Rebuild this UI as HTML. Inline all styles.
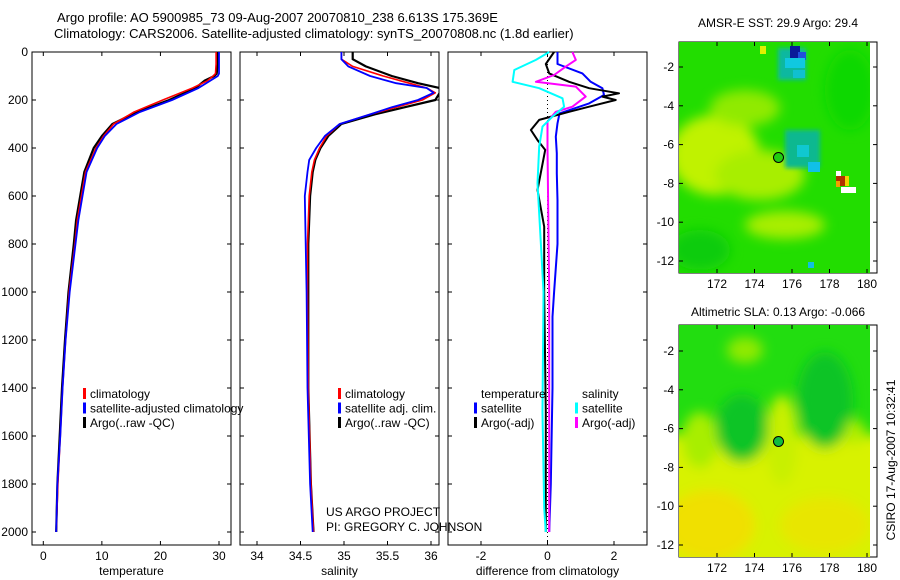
<!DOCTYPE html>
<html><head><meta charset="utf-8"><style>
html,body{margin:0;padding:0;background:#fff;}
svg{display:block;font-family:"Liberation Sans",Arial,sans-serif;}
</style></head><body>
<svg id="c" width="900" height="580" viewBox="0 0 900 580">
<defs>
<filter id="bl" x="-50%" y="-50%" width="200%" height="200%"><feGaussianBlur stdDeviation="6"/></filter>
<filter id="bl2" x="-50%" y="-50%" width="200%" height="200%"><feGaussianBlur stdDeviation="2"/></filter>
<clipPath id="m1c"><rect x="679" y="42" width="191" height="231"/></clipPath>
<clipPath id="m2c"><rect x="679" y="325" width="191" height="232"/></clipPath>
</defs>
<g>
<text x="57" y="22" font-size="13">Argo profile: AO 5900985_73 09-Aug-2007 20070810_238 6.613S 175.369E</text>
<text x="54" y="38" font-size="13">Climatology: CARS2006. Satellite-adjusted climatology: synTS_20070808.nc (1.8d earlier)</text>
</g>

<g>
<rect x="679" y="42" width="198" height="231" fill="#fff" stroke="#000" stroke-width="1"/>
<g clip-path="url(#m1c)">
<rect x="679" y="42" width="191" height="231" fill="#22dd00"/>
<g filter="url(#bl)">
<ellipse cx="715" cy="155" rx="45" ry="40" fill="#c0f200"/>
<ellipse cx="760" cy="175" rx="45" ry="25" fill="#a8ee00"/>
<ellipse cx="785" cy="225" rx="40" ry="14" fill="#a8ee00"/>
<ellipse cx="745" cy="108" rx="35" ry="18" fill="#90ea00"/>
<ellipse cx="850" cy="90" rx="25" ry="40" fill="#10d800"/>
<ellipse cx="700" cy="250" rx="30" ry="20" fill="#10cc10"/>
</g>
<g filter="url(#bl2)">
<rect x="778" y="48" width="28" height="32" fill="#10b8a0"/>
<rect x="785" y="130" width="35" height="38" fill="#10b890"/>
</g>
<rect x="790" y="46" width="10" height="12" fill="#0a1a99"/>
<rect x="798" y="52" width="8" height="8" fill="#2050dd"/>
<rect x="785" y="58" width="20" height="10" fill="#10c8e0"/>
<rect x="793" y="70" width="12" height="8" fill="#10c0d0"/>
<rect x="797" y="145" width="12" height="12" fill="#10c8d0"/>
<rect x="808" y="162" width="12" height="10" fill="#10c0e8"/>
<rect x="760" y="46" width="6" height="8" fill="#e0f000"/>
<rect x="836" y="171" width="5" height="5" fill="#fff"/>
<rect x="836" y="176" width="10" height="10" fill="#b03000"/>
<rect x="836" y="181" width="4" height="6" fill="#f0a000"/>
<rect x="845" y="176" width="4" height="10" fill="#f0d000"/>
<rect x="841" y="187" width="15" height="6" fill="#fff"/>
<rect x="808" y="262" width="6" height="6" fill="#10c0e0"/>
</g>
<circle cx="778.5" cy="157.5" r="5" fill="#22cc10" stroke="#000" stroke-width="1"/>
<text x="778" y="27" font-size="12" text-anchor="middle">AMSR-E SST: 29.9 Argo: 29.4</text>
</g>

<g>
<rect x="679" y="325" width="198" height="232" fill="#fff" stroke="#000" stroke-width="1"/>
<g clip-path="url(#m2c)">
<rect x="679" y="325" width="191" height="232" fill="#22dd10"/>
<g filter="url(#bl)">
<rect x="660" y="435" width="230" height="140" fill="#d8f200"/>
<ellipse cx="710" cy="525" rx="45" ry="35" fill="#f0e000"/>
<ellipse cx="825" cy="525" rx="45" ry="28" fill="#e8e600"/>
<ellipse cx="782" cy="440" rx="16" ry="45" fill="#c8f000"/>
<ellipse cx="700" cy="440" rx="18" ry="28" fill="#a8ee00"/>
<ellipse cx="742" cy="428" rx="26" ry="34" fill="#10c428"/>
<ellipse cx="825" cy="400" rx="28" ry="48" fill="#10c428"/>
<ellipse cx="745" cy="350" rx="18" ry="13" fill="#90ea00"/>
<ellipse cx="855" cy="432" rx="10" ry="12" fill="#b0ee00"/>
</g>
</g>
<circle cx="778.5" cy="441.5" r="5" fill="#10bb40" stroke="#000" stroke-width="1"/>
<text x="778" y="316" font-size="12" text-anchor="middle">Altimetric SLA: 0.13 Argo: -0.066</text>
</g>
<text transform="translate(895,460) rotate(-90)" font-size="12" text-anchor="middle">CSIRO 17-Aug-2007 10:32:41</text>

<text x="326" y="516" font-size="12">US ARGO PROJECT</text>
<text x="326" y="531" font-size="12">PI: GREGORY C. JOHNSON</text>
</svg>
<script>
var depthTick=[0,200,400,600,800,1000,1200,1400,1600,1800,2000];
var tempTicks=[0,10,20,30];
var salTicks=[34,34.5,35,35.5,36];
var salTickLabels=["34","34.5","35","35.5","36"];
var diffTicks=[-2,0,2];
var tDepth=[0,50,90,100,120,150,200,250,300,350,400,500,600,700,800,1000,1200,1400,1600,1800,2000];
var tClim=[29.5,29.5,29.4,29,28,25.5,20.4,15.5,12,10.3,9,7.2,6.5,5.8,5.4,4.4,3.8,3.3,2.9,2.5,2.2];
var tSat=[30,30,30,29.8,28.5,26.5,22,16.5,12.5,10.5,9.2,7.4,6.7,6,5.5,4.5,3.8,3.3,2.9,2.4,2.2];
var tArgo=[29.8,29.8,29.6,29.2,27.5,26,21.5,16,11.8,10,8.6,7,6.3,5.6,5.2,4.3,3.7,3.2,2.8,2.4,2.2];
var sDepth=[0,30,60,100,130,150,170,200,230,260,300,350,400,450,500,600,800,1000,1400,1800,2000];
var sClim=[34.97,34.97,35.1,35.45,35.75,35.95,36.05,35.9,35.6,35.3,34.95,34.8,34.72,34.66,34.63,34.6,34.58,34.58,34.59,34.62,34.65];
var sSat=[34.97,34.97,35.05,35.3,35.6,35.95,36.03,35.85,35.55,35.3,34.95,34.78,34.68,34.6,34.58,34.55,34.56,34.57,34.58,34.61,34.64];
var sArgo=[35.1,35.1,35.25,35.55,35.85,36.1,36.1,36.05,35.7,35.35,34.97,34.82,34.73,34.67,34.64,34.61,34.59,34.59,34.59,34.62,34.65];
var dtSatDepth=[0,50,89,124,151,179,214,256,297,353,422,506,617,800,1000,1103,1400,1800,2000];
var dtSat=[0.3,0.3,1.05,1.3,1.65,1.7,1.25,0.36,0.3,0.25,0.28,0.28,0.3,0.3,0.2,0.15,0.15,0.1,0.05];
var dtArgoDepth=[0,50,89,124,151,172,186,200,228,249,283,325,367,408,575,728,1000,1500,2000];
var dtArgo=[0.2,-0.05,0.05,0.65,1.25,2.15,1.65,2.05,1.25,0.65,-0.25,-0.5,-0.3,-0.07,-0.3,-0.1,-0.1,-0.05,-0.05];
var dsSatDepth=[0,33,75,124,151,193,228,269,311,394,547,800,1000,1500,1900,2000];
var dsSat=[0.05,-0.35,-1.0,-1.05,-0.25,0.45,0.5,0.15,-0.15,-0.25,-0.3,-0.2,-0.12,-0.15,-0.1,-0.05];
var dsArgoDepth=[0,33,61,96,124,144,186,228,249,290,400,1000,2000];
var dsArgo=[0.75,0.85,0.55,0.2,-0.35,0.85,1.15,0.75,0.25,0,0,0.05,0.05];
var lonTicks=[172,174,176,178,180];
var latTicks=[-2,-4,-6,-8,-10,-12];

var svg=document.getElementById('c');
var NS='http://www.w3.org/2000/svg';
function mk(tag,attrs,parent){var e=document.createElementNS(NS,tag);for(var k in attrs)e.setAttribute(k,attrs[k]);(parent||svg).appendChild(e);return e;}
var Y0=52,YB=545;
function yD(d){return Y0+d*0.24;}
function linX(v0,p0,v1,p1){return function(v){return p0+(v-v0)*(p1-p0)/(v1-v0);};}

function panel(name,x0,x1,xf,ticks,labels,xtitle,leftLabels){
  var g=mk('g',{});
  
  
  mk('rect',{x:x0,y:Y0,width:x1-x0,height:YB-Y0,fill:'none',stroke:'#000','stroke-width':1},g);
  ticks.forEach(function(t,i){var x=xf(t);
    mk('line',{x1:x,x2:x,y1:Y0,y2:Y0+4,stroke:'#000'},g);
    mk('line',{x1:x,x2:x,y1:YB,y2:YB-4,stroke:'#000'},g);
    var tx=mk('text',{x:x,y:YB+15,'font-size':12,'text-anchor':'middle'},g);tx.textContent=labels[i];
    
    
  });
  depthTick.forEach(function(d){var y=yD(d);
    mk('line',{x1:x0,x2:x0+4,y1:y,y2:y,stroke:'#000'},g);
    mk('line',{x1:x1,x2:x1-4,y1:y,y2:y,stroke:'#000'},g);
    if(leftLabels){var tx=mk('text',{x:x0-4,y:y+4,'font-size':12,'text-anchor':'end'},g);tx.textContent=d;
      
      }
  });
  var tt=mk('text',{x:(x0+x1)/2,y:575,'font-size':12,'text-anchor':'middle'},g);tt.textContent=xtitle;
  
  
  return g;
}
function line(g,name,depths,vals,xf,color,w){
  var pts=depths.map(function(d,i){return xf(vals[i]).toFixed(1)+','+yD(d).toFixed(1);}).join(' ');
  var p=mk('polyline',{points:pts,fill:'none',stroke:color,'stroke-width':w,'stroke-linejoin':'round'},g);
  
  
}
function legend(g,x,y,items){
  items.forEach(function(it,i){
    var yy=y+i*14.5;
    if(it.c){var m=mk('rect',{x:x,y:yy-10,width:3,height:11,fill:it.c},g);
      
      }
    var t=mk('text',{x:x+7,y:yy,'font-size':12},g);t.textContent=it.t;
    
    
  });
}
var xT=linX(0,43.3,30,219);
var g1=panel('temperature-panel',32,231,xT,tempTicks,tempTicks.map(String),'temperature',true);
line(g1,'temp-argo-line',tDepth,tArgo,xT,'#000',2.2);
line(g1,'temp-climatology-line',tDepth,tClim,xT,'#f00',1.6);
line(g1,'temp-satellite-line',tDepth,tSat,xT,'#00f',1.8);
legend(g1,83,398,[{c:'#f00',t:'climatology'},{c:'#00f',t:'satellite-adjusted climatology'},{c:'#000',t:'Argo(..raw -QC)'}]);
var xS=linX(34,257,36,431);
var g2=panel('salinity-panel',240,439,xS,salTicks,salTickLabels,'salinity',false);
var cp=mk('clipPath',{id:'sc'});mk('rect',{x:240,y:Y0,width:199,height:YB-Y0},cp);
var g2c=mk('g',{'clip-path':'url(#sc)'},g2);
line(g2c,'sal-argo-line',sDepth,sArgo,xS,'#000',2.2);
line(g2c,'sal-climatology-line',sDepth,sClim,xS,'#f00',1.6);
line(g2c,'sal-satellite-line',sDepth,sSat,xS,'#00f',1.8);
legend(g2,338,398,[{c:'#f00',t:'climatology'},{c:'#00f',t:'satellite adj. clim.'},{c:'#000',t:'Argo(..raw -QC)'}]);
var xD=linX(-2,481,2,614);
var g3=panel('difference-panel',448,647,xD,diffTicks,diffTicks.map(String),'difference from climatology',false);
var zl=mk('line',{x1:xD(0),x2:xD(0),y1:Y0,y2:YB,stroke:'#000','stroke-dasharray':'1,3'},g3);


line(g3,'diff-temp-satellite',dtSatDepth,dtSat,xD,'#00f',2);
line(g3,'diff-temp-argo',dtArgoDepth,dtArgo,xD,'#000',2);
line(g3,'diff-sal-argo',dsArgoDepth,dsArgo,xD,'#f0f',2);
line(g3,'diff-sal-satellite',dsSatDepth,dsSat,xD,'#0ff',2);
legend(g3,474,398,[{c:null,t:'temperature'},{c:'#00f',t:'satellite'},{c:'#000',t:'Argo(-adj)'}]);
legend(g3,575,398,[{c:null,t:'salinity'},{c:'#0ff',t:'satellite'},{c:'#f0f',t:'Argo(-adj)'}]);
function mapAxes(name,top,bot,latM2y){
  var g=mk('g',{});
  
  
  var xL=linX(172,717,180,867);
  lonTicks.forEach(function(l){var x=xL(l);
    mk('line',{x1:x,x2:x,y1:top,y2:top+4,stroke:'#000'},g);
    mk('line',{x1:x,x2:x,y1:bot,y2:bot-4,stroke:'#000'},g);
    var t=mk('text',{x:x,y:bot+15,'font-size':12,'text-anchor':'middle'},g);t.textContent=l;
    
    
  });
  latTicks.forEach(function(l){var y=latM2y(l);
    mk('line',{x1:679,x2:683,y1:y,y2:y,stroke:'#000'},g);
    mk('line',{x1:877,x2:873,y1:y,y2:y,stroke:'#000'},g);
    var t=mk('text',{x:674,y:y+4,'font-size':12,'text-anchor':'end'},g);t.textContent=l;
    
    
  });
}
mapAxes('sst-map-axes',42,273,linX(-2,67,-12,261));
mapAxes('sla-map-axes',325,557,linX(-2,351,-12,545));
</script>
</body></html>
